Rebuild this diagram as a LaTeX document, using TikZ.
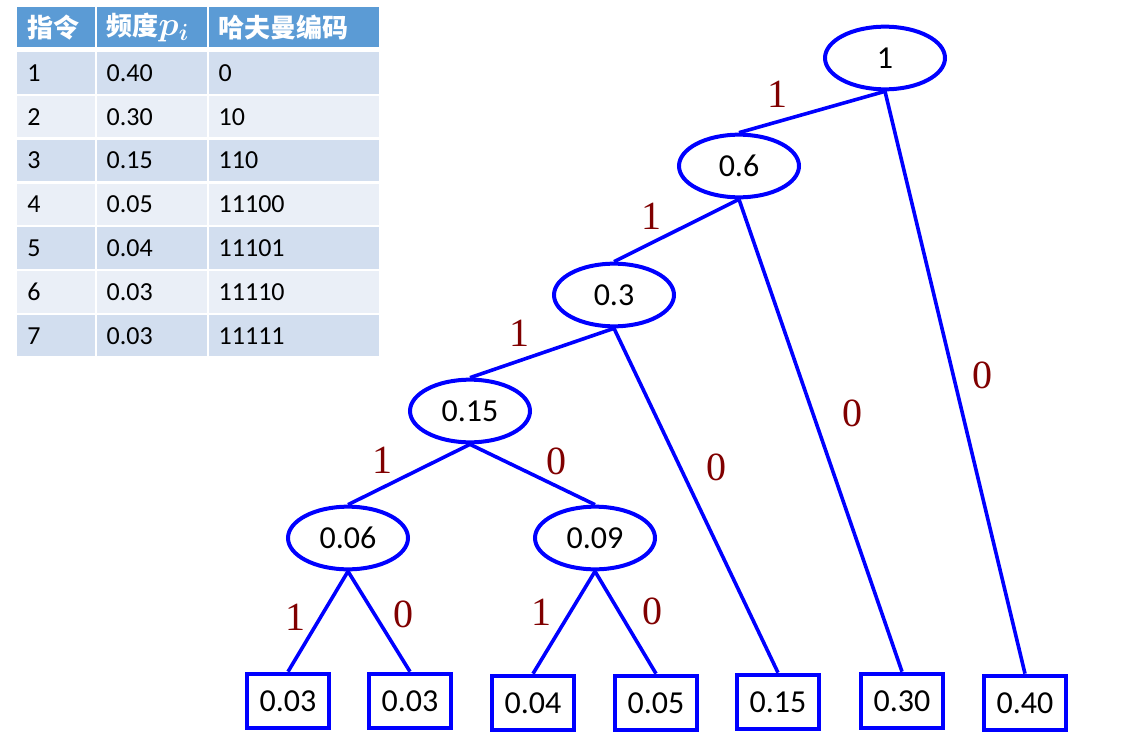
\RequirePackage{fix-cm}
\documentclass[tikz,border=0pt]{standalone}
\usepackage{amsmath}
\usepackage{fontspec}
\setmainfont{Carlito}
\newfontfamily\cjk{Noto Sans CJK SC}
\newfontfamily\bitfont{Liberation Serif}
\usepackage{tikz}
\usetikzlibrary{shapes.geometric, positioning}
\definecolor{headblue}{RGB}{91,155,213}
\definecolor{banddark}{RGB}{210,222,239}
\definecolor{bandlight}{RGB}{234,239,247}
\definecolor{bitred}{RGB}{128,0,0}
\tikzset {
    merged/.style={ellipse, draw=blue, line width=3pt, minimum width=90pt, minimum height=47pt, inner sep=0pt, font=\fontsize{24}{28}\selectfont},
    leaf/.style={rectangle, draw=blue, line width=3pt, minimum width=62pt, minimum height=41pt, inner sep=0pt, font=\fontsize{24}{28}\selectfont},
    bit/.style={text=bitred, font=\bitfont\fontsize{30}{34}\selectfont, inner sep=0pt},
    branch/.style={draw=blue, line width=2.7pt},
    cell/.style={inner xsep=7.5pt, inner ysep=0pt, align=left, font=\fontsize{19.5}{22}\selectfont}
}

\begin{document}
\begin{tikzpicture}[
  x=0.75pt, y=-0.75pt,
  headcell/.style={cell, fill=headblue, text=white, minimum height=30pt, font=\cjk\bfseries\fontsize{19.5}{22}\selectfont},
  bodycell/.style={cell, minimum height=31pt}
  ]
\useasboundingbox (0,0) rectangle (1135,753);

\node[headcell, anchor=north west, text width=43.1pt] (h1) at (17,7) {指令};
\node[headcell, text width=67.5pt, right=1.1pt of h1] (h2) {频度{\fontsize{25}{28}\selectfont$\boldsymbol{p_i}$}};
\node[headcell, text width=112.9pt, right=1.1pt of h2] (h3) {哈夫曼编码};

\foreach \n/\p/\c/\f [count=\r] in {1/0.40/0/banddark, 2/0.30/10/bandlight, 3/0.15/110/banddark,
    4/0.05/11100/bandlight, 5/0.04/11101/banddark, 6/0.03/11110/bandlight, 7/0.03/11111/banddark} {
  \pgfmathsetmacro\top{52+(\r-1)*43.8}
  \node[bodycell, fill=\f, anchor=north west, text width=43.1pt] (n\r) at (17,\top) {\n};
  \node[bodycell, fill=\f, text width=67.5pt, right=1.1pt of n\r] (p\r) {\p};
  \node[bodycell, fill=\f, text width=112.9pt, right=1.1pt of p\r] (c\r) {\c};
}

\node[merged] (s1) at (885,58) {1};
\node[merged] (s2) at (739,166) {0.6};
\node[merged] (s3) at (614,295) {0.3};
\node[merged] (s4) at (470,411) {0.15};
\node[merged] (s5) at (348,538) {0.06};
\node[merged] (s6) at (595,538) {0.09};

\node[leaf] (l7) at (288,701) {0.03};
\node[leaf] (l6) at (410,701) {0.03};
\node[leaf] (l5) at (533,703) {0.04};
\node[leaf] (l4) at (656,703) {0.05};
\node[leaf] (l3) at (778,702) {0.15};
\node[leaf] (l2) at (902,701) {0.30};
\node[leaf] (l1) at (1025,703) {0.40};

\draw[branch] (s1.south) -- (s2.north);
\draw[branch] (s1.south) -- (l1.north);
\draw[branch] (s2.south) -- (s3.north);
\draw[branch] (s2.south) -- (l2.north);
\draw[branch] (s3.south) -- (s4.north);
\draw[branch] (s3.south) -- (l3.north);
\draw[branch] (s4.south) -- (s5.north);
\draw[branch] (s4.south) -- (s6.north);
\draw[branch] (s5.south) -- (l7.north);
\draw[branch] (s5.south) -- (l6.north);
\draw[branch] (s6.south) -- (l5.north);
\draw[branch] (s6.south) -- (l4.north);

\node[bit] (b1) at (777,94) {1};
\node[bit] (b2) at (982,375) {0};
\node[bit] (b3) at (651,216) {1};
\node[bit] (b4) at (852,413) {0};
\node[bit] (b5) at (519,333) {1};
\node[bit] (b6) at (716,467) {0};
\node[bit] (b7) at (382,460) {1};
\node[bit] (b8) at (556,461) {0};
\node[bit] (b9) at (295,617) {1};
\node[bit] (b10) at (403,614) {0};
\node[bit] (b11) at (541,612) {1};
\node[bit] (b12) at (652,611) {0};

\end{tikzpicture}
\end{document}
